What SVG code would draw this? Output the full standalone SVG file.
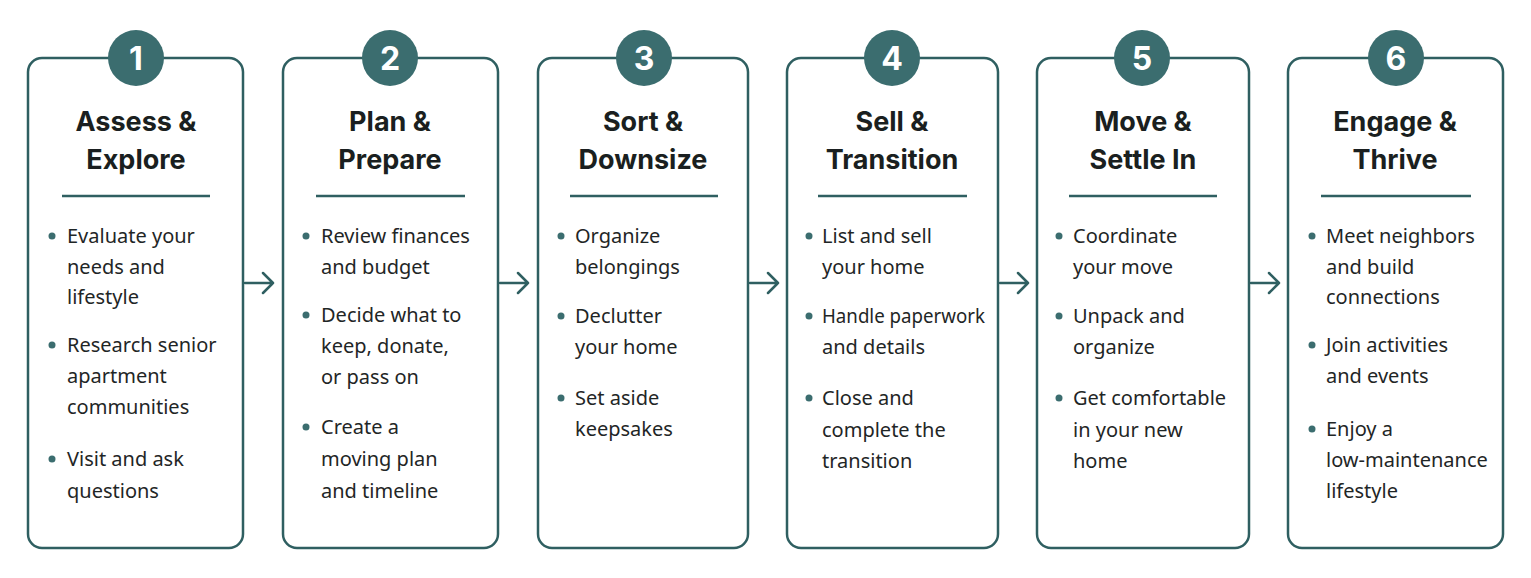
<svg xmlns="http://www.w3.org/2000/svg" width="1531" height="578" viewBox="0 0 1531 578">
<defs>
<style>
.box{fill:#ffffff;stroke:#2f5f61;stroke-width:2.5}
.badge{fill:#3b6d6f}
.num{font-family:Inter,"Noto Sans",sans-serif;font-weight:700;font-size:32px;fill:#ffffff;text-anchor:middle}
.title{font-family:Inter,"Noto Sans",sans-serif;font-weight:700;font-size:27px;fill:#1a1f20;text-anchor:middle}
.rule{stroke:#2f5f61;stroke-width:2.5}
.txt{font-family:"Noto Sans","Open Sans",sans-serif;font-size:20px;fill:#1f2626}
.dot{fill:#3b6d6f}
.conn{fill:none;stroke:#2f5f61;stroke-width:2.5;stroke-linecap:round;stroke-linejoin:round}
</style>
</defs>
<rect width="1531" height="578" fill="#ffffff"/>
<g id="connectors">
<path class="conn" d="M245 283H273M263 273L273 283L263 293"/>
<path class="conn" d="M500 283H528M518 273L528 283L518 293"/>
<path class="conn" d="M750 283H778M768 273L778 283L768 293"/>
<path class="conn" d="M1000 283H1028M1018 273L1028 283L1018 293"/>
<path class="conn" d="M1251 283H1279M1269 273L1279 283L1269 293"/>
</g>
<g id="step1">
<rect class="box" x="28" y="58" width="215" height="490" rx="14"/>
<circle class="badge" cx="136" cy="58" r="28"/>
<text class="num" x="136" y="70">1</text>
<text class="title" x="136" y="131">Assess &amp;</text>
<text class="title" x="136" y="169">Explore</text>
<line class="rule" x1="62" y1="196" x2="210" y2="196"/>
<circle class="dot" cx="52" cy="236" r="3.5"/>
<text class="txt" x="67" y="243">Evaluate your</text>
<text class="txt" x="67" y="274">needs and</text>
<text class="txt" x="67" y="304">lifestyle</text>
<circle class="dot" cx="52" cy="345" r="3.5"/>
<text class="txt" x="67" y="352">Research senior</text>
<text class="txt" x="67" y="383">apartment</text>
<text class="txt" x="67" y="414">communities</text>
<circle class="dot" cx="52" cy="459" r="3.5"/>
<text class="txt" x="67" y="466">Visit and ask</text>
<text class="txt" x="67" y="498">questions</text>
</g>
<g id="step2">
<rect class="box" x="283" y="58" width="215" height="490" rx="14"/>
<circle class="badge" cx="390" cy="58" r="28"/>
<text class="num" x="390" y="70">2</text>
<text class="title" x="390" y="131">Plan &amp;</text>
<text class="title" x="390" y="169">Prepare</text>
<line class="rule" x1="316" y1="196" x2="465" y2="196"/>
<circle class="dot" cx="306" cy="236" r="3.5"/>
<text class="txt" x="321" y="243">Review finances</text>
<text class="txt" x="321" y="274">and budget</text>
<circle class="dot" cx="306" cy="315" r="3.5"/>
<text class="txt" x="321" y="322">Decide what to</text>
<text class="txt" x="321" y="353">keep, donate,</text>
<text class="txt" x="321" y="384">or pass on</text>
<circle class="dot" cx="306" cy="427" r="3.5"/>
<text class="txt" x="321" y="434">Create a</text>
<text class="txt" x="321" y="466">moving plan</text>
<text class="txt" x="321" y="498">and timeline</text>
</g>
<g id="step3">
<rect class="box" x="538" y="58" width="210" height="490" rx="14"/>
<circle class="badge" cx="644" cy="58" r="28"/>
<text class="num" x="644" y="70">3</text>
<text class="title" x="643" y="131">Sort &amp;</text>
<text class="title" x="643" y="169">Downsize</text>
<line class="rule" x1="570" y1="196" x2="718" y2="196"/>
<circle class="dot" cx="561" cy="236" r="3.5"/>
<text class="txt" x="575" y="243">Organize</text>
<text class="txt" x="575" y="274">belongings</text>
<circle class="dot" cx="561" cy="316" r="3.5"/>
<text class="txt" x="575" y="323">Declutter</text>
<text class="txt" x="575" y="354">your home</text>
<circle class="dot" cx="561" cy="398" r="3.5"/>
<text class="txt" x="575" y="405">Set aside</text>
<text class="txt" x="575" y="436">keepsakes</text>
</g>
<g id="step4">
<rect class="box" x="787" y="58" width="211" height="490" rx="14"/>
<circle class="badge" cx="892" cy="58" r="28"/>
<text class="num" x="892" y="70">4</text>
<text class="title" x="892" y="131">Sell &amp;</text>
<text class="title" x="892" y="169">Transition</text>
<line class="rule" x1="818" y1="196" x2="967" y2="196"/>
<circle class="dot" cx="809" cy="236" r="3.5"/>
<text class="txt" x="822" y="243">List and sell</text>
<text class="txt" x="822" y="274">your home</text>
<circle class="dot" cx="809" cy="316" r="3.5"/>
<text class="txt" x="822" y="323" textLength="163" lengthAdjust="spacingAndGlyphs">Handle paperwork</text>
<text class="txt" x="822" y="354">and details</text>
<circle class="dot" cx="809" cy="398" r="3.5"/>
<text class="txt" x="822" y="405">Close and</text>
<text class="txt" x="822" y="437">complete the</text>
<text class="txt" x="822" y="468">transition</text>
</g>
<g id="step5">
<rect class="box" x="1037" y="58" width="212" height="490" rx="14"/>
<circle class="badge" cx="1142" cy="58" r="28"/>
<text class="num" x="1142" y="70">5</text>
<text class="title" x="1143" y="131">Move &amp;</text>
<text class="title" x="1143" y="169">Settle In</text>
<line class="rule" x1="1069" y1="196" x2="1217" y2="196"/>
<circle class="dot" cx="1059" cy="236" r="3.5"/>
<text class="txt" x="1073" y="243">Coordinate</text>
<text class="txt" x="1073" y="274">your move</text>
<circle class="dot" cx="1059" cy="316" r="3.5"/>
<text class="txt" x="1073" y="323">Unpack and</text>
<text class="txt" x="1073" y="354">organize</text>
<circle class="dot" cx="1059" cy="398" r="3.5"/>
<text class="txt" x="1073" y="405">Get comfortable</text>
<text class="txt" x="1073" y="437">in your new</text>
<text class="txt" x="1073" y="468">home</text>
</g>
<g id="step6">
<rect class="box" x="1288" y="58" width="215" height="490" rx="14"/>
<circle class="badge" cx="1396" cy="58" r="28"/>
<text class="num" x="1396" y="70">6</text>
<text class="title" x="1395" y="131">Engage &amp;</text>
<text class="title" x="1395" y="169">Thrive</text>
<line class="rule" x1="1321" y1="196" x2="1471" y2="196"/>
<circle class="dot" cx="1312" cy="236" r="3.5"/>
<text class="txt" x="1326" y="243">Meet neighbors</text>
<text class="txt" x="1326" y="274">and build</text>
<text class="txt" x="1326" y="304">connections</text>
<circle class="dot" cx="1312" cy="345" r="3.5"/>
<text class="txt" x="1326" y="352">Join activities</text>
<text class="txt" x="1326" y="383">and events</text>
<circle class="dot" cx="1312" cy="429" r="3.5"/>
<text class="txt" x="1326" y="436">Enjoy a</text>
<text class="txt" x="1326" y="467">low-maintenance</text>
<text class="txt" x="1326" y="498">lifestyle</text>
</g>
</svg>
